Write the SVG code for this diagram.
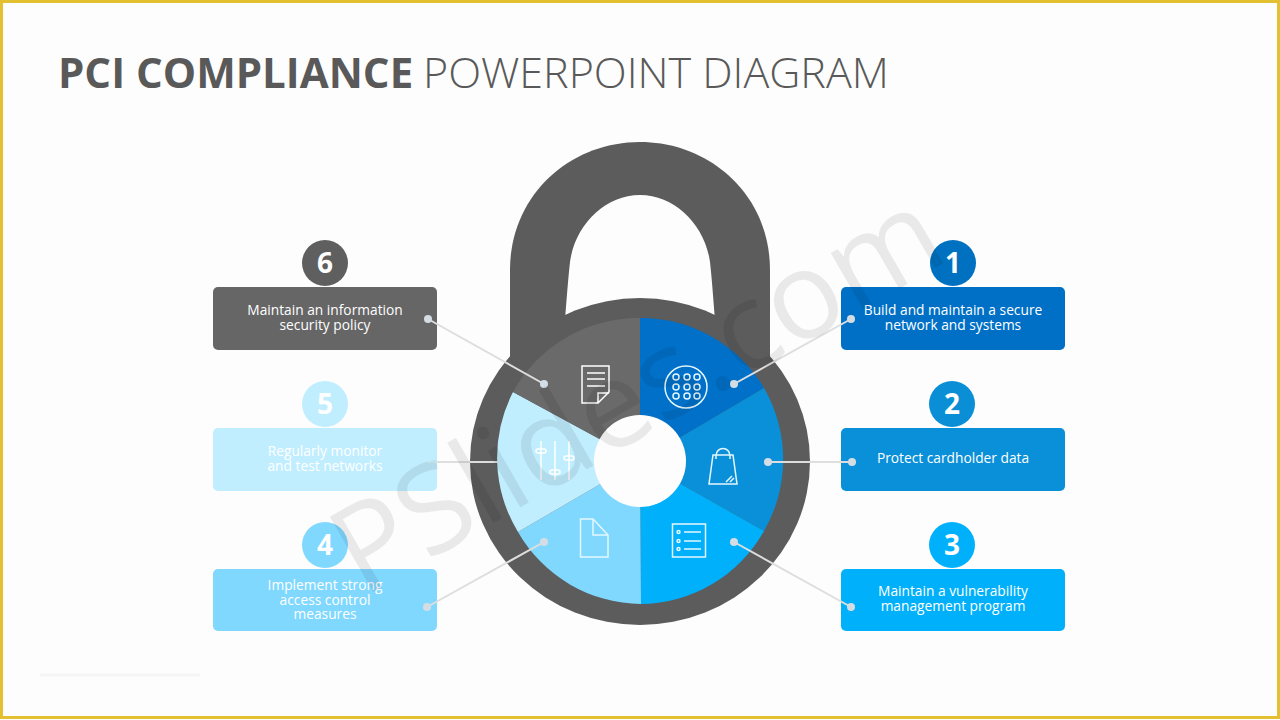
<svg xmlns="http://www.w3.org/2000/svg" width="1280" height="720" viewBox="0 0 1280 720">
<style>
text{font-family:"Open Sans","Noto Sans","Liberation Sans",sans-serif}
.t{font-size:13.750px;fill:#fff;text-anchor:middle}
.n{font-size:28px;font-weight:700;fill:#fff;text-anchor:middle}
.c{stroke:#dedede;stroke-width:2;fill:none}
.d{fill:#d4dde4}
.i{fill:none;stroke:#e4f7ff;stroke-width:1.5}
</style>
<rect width="1280" height="720" fill="#fdfdfd"/>
<rect x="1.500" y="1.500" width="1277" height="716" fill="none" stroke="#e3c030" stroke-width="3"/>
<text x="58" y="88" fill="#595959"><tspan font-size="42" font-weight="700">PCI COMPLIANCE</tspan><tspan x="423" font-size="43" font-weight="300">POWERPOINT DIAGRAM</tspan></text>
<g id="lock">
<path d="M510,370V270C510,195 570,142 640,142C710,142 770,195 770,270V370Z" fill="#5c5c5c"/>
<path d="M565,320C567,295 568,280 570,262C575,225 605,195 640,195C675,195 705,225 710,262C712,280 713,295 715,320Z" fill="#fdfdfd"/>
<ellipse cx="640" cy="461.500" rx="170" ry="163.500" fill="#5c5c5c"/>
<path id="w1" d="M640,461V318A143,143 0 0 1 764,388Z" fill="#0070c9"/>
<path id="w2" d="M640,461L764,388A143,143 0 0 1 764,531Z" fill="#0a90d8"/>
<path id="w3" d="M640,461L764,531A143,143 0 0 1 641,604Z" fill="#00b0fa"/>
<path id="w4" d="M640,461L641,604A143,143 0 0 1 518,532Z" fill="#80d8ff"/>
<path id="w5" d="M640,461L518,532A143,143 0 0 1 513,392Z" fill="#c0eeff"/>
<path id="w6" d="M640,461L513,392A143,143 0 0 1 640,318Z" fill="#6a6a6a"/>
<circle cx="640" cy="461" r="46" fill="#fdfdfd"/>
</g>
<g id="icon1" class="i"><circle cx="686" cy="387" r="21"/><circle cx="676" cy="377" r="3"/><circle cx="687" cy="377" r="3"/><circle cx="697" cy="377" r="3"/><circle cx="676" cy="387" r="3"/><circle cx="687" cy="387" r="3"/><circle cx="697" cy="387" r="3"/><circle cx="676" cy="396" r="3"/><circle cx="687" cy="396" r="3"/><circle cx="697" cy="396" r="3"/></g>
<g id="icon2" class="i"><path d="M713,455H733L737,484H709Z"/><path d="M716,459V456C716,446 730,446 730,456V459"/><path d="M726,482L732,476M730,482L734,478"/></g>
<g id="icon3" class="i"><rect x="672.500" y="524" width="33" height="33"/><path d="M684,532H701M684,541H701M684,549H701"/><circle cx="678.500" cy="532" r="1.500"/><circle cx="678.500" cy="541" r="1.500"/><circle cx="678.500" cy="549" r="1.500"/></g>
<g id="icon4" class="i"><path d="M580.500,519H593L608,535V557H580.500Z"/><path d="M593,519V535H608"/></g>
<g id="icon5" class="i" style="stroke:#fff"><path d="M541,441V480M555,441V480M569,441V480"/><rect x="536" y="449" width="10" height="4" rx="2"/><rect x="550" y="470" width="10" height="4" rx="2"/><rect x="564" y="456" width="10" height="4" rx="2"/></g>
<g id="icon6" class="i" style="stroke:#fff"><path d="M582,366H609V392L598,403H582Z"/><path d="M587,373H605M587,379H605M587,386H605"/><path d="M609,393H598V403"/></g>
<g id="node6"><circle cx="325" cy="263" r="23" fill="#5f5f5f"/><text class="n" x="325" y="273">6</text><rect x="213" y="287" width="224" height="63" rx="5" fill="#666"/><text class="t" y="315"><tspan x="325">Maintain an information</tspan><tspan x="325" dy="15">security policy</tspan></text></g>
<g id="node5"><circle cx="325" cy="404" r="23" fill="#c0eeff"/><text class="n" x="325" y="414">5</text><rect x="213" y="428" width="224" height="63" rx="5" fill="#c0eeff"/><text class="t" y="456"><tspan x="325">Regularly monitor</tspan><tspan x="325" dy="15">and test networks</tspan></text></g>
<g id="node4"><circle cx="325" cy="545" r="23" fill="#80d8ff"/><text class="n" x="325" y="555">4</text><rect x="213" y="569" width="224" height="62" rx="5" fill="#80d8ff"/><text class="t" y="590"><tspan x="325">Implement strong</tspan><tspan x="325" dy="14.500">access control</tspan><tspan x="325" dy="14.500">measures</tspan></text></g>
<g id="node1"><circle cx="953" cy="263" r="23" fill="#0070c0"/><text class="n" x="953" y="273">1</text><rect x="841" y="287" width="224" height="63" rx="5" fill="#0070c6"/><text class="t" y="315"><tspan x="953">Build and maintain a secure</tspan><tspan x="953" dy="15">network and systems</tspan></text></g>
<g id="node2"><circle cx="952" cy="404" r="23" fill="#0a8fd6"/><text class="n" x="952" y="414">2</text><rect x="841" y="428" width="224" height="63" rx="5" fill="#0a90d8"/><text class="t" x="953" y="463">Protect cardholder data</text></g>
<g id="node3"><circle cx="952" cy="545" r="23" fill="#00b0fa"/><text class="n" x="952" y="555">3</text><rect x="841" y="569" width="224" height="62" rx="5" fill="#00b0fa"/><text class="t" y="596"><tspan x="953">Maintain a vulnerability</tspan><tspan x="953" dy="15">management program</tspan></text></g>
<g id="connectors">
<path class="c" d="M428,319L544,384M851,319L734,384M852,462H768M851,607L734,542M427,607L544,542M437,462H498"/>
<path d="M428,462H437" stroke="#d3f1fd" stroke-width="2" fill="none"/>
<g class="d"><circle cx="428" cy="319" r="4"/><circle cx="544" cy="384" r="4"/><circle cx="851" cy="319" r="4"/><circle cx="734" cy="384" r="4"/><circle cx="852" cy="462" r="4"/><circle cx="768" cy="462" r="4"/><circle cx="851" cy="607" r="4"/><circle cx="734" cy="542" r="4"/><circle cx="427" cy="607" r="4"/><circle cx="544" cy="542" r="4"/></g>
</g>
<text x="636" y="432" transform="rotate(-30 640 390)" font-size="122" font-weight="500" text-anchor="middle" fill="#000" fill-opacity=".08">PSlides.com</text>
<path d="M40,675H200" stroke="#f5f5f5" stroke-width="3" fill="none"/>
</svg>
